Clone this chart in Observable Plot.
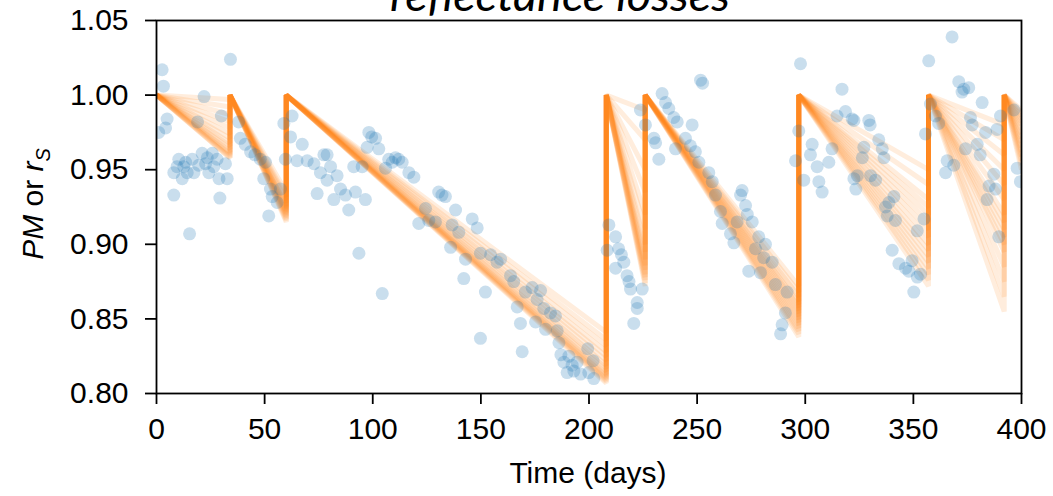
<!DOCTYPE html>
<html>
<head>
<meta charset="utf-8">
<script src="https://cdn.jsdelivr.net/npm/d3@7"></script>
<script src="https://cdn.jsdelivr.net/npm/@observablehq/plot@0.6"></script>
<style>
  html, body { margin: 0; padding: 0; background: #fff; }
  #chart { width: 1053px; height: 496px; overflow: hidden; }
</style>
</head>
<body>
<div id="chart"></div>
<script>
// ---- Data ----
// Cleaning events (days) — soiling model resets to 1.0
const cleanDays = [0, 34, 60, 208, 226, 297, 357, 392, 400];

// Ensemble members: end-of-interval values (one per member)
const endI1 = [0.958,0.958,0.959,0.960,0.961,0.962,0.964,0.966,0.968,0.971,0.974,0.978,0.982,0.987,0.992,0.997];
const endI2 = [0.915,0.916,0.917,0.918,0.919,0.920,0.921,0.922,0.923,0.924,0.925,0.926,0.928,0.930,0.932,0.935];
const endI3 = [0.807,0.808,0.809,0.810,0.811,0.812,0.813,0.815,0.817,0.819,0.822,0.825,0.828,0.832,0.836,0.841];
const endI4 = [0.872,0.874,0.876,0.878,0.880,0.883,0.886,0.890,0.895,0.900,0.910,0.920,0.935,0.950,0.970,0.990];
const endI5 = [0.838,0.840,0.842,0.844,0.846,0.848,0.850,0.852,0.854,0.856,0.858,0.860,0.862,0.865,0.868,0.872];
const endI6 = [0.872,0.876,0.880,0.884,0.888,0.892,0.896,0.900,0.905,0.910,0.915,0.920,0.925,0.930,0.940,0.950];
const endI7 = [0.855,0.865,0.875,0.885,0.895,0.900,0.905,0.910,0.915,0.920,0.930,0.940,0.950,0.960,0.970,0.980];
const endI8 = [0.950,0.953,0.956,0.959,0.962,0.965,0.968,0.971,0.974,0.977,0.980,0.982,0.984,0.986,0.988,0.990];

// Measured points (day, PM)
const obsDay = [
  2.6,3.2,4.9,4.2,1,22,19,30,34.2,
  10.3,12.6,14.2,11.9,8,16.5,17.3,21.1,22.7,24.2,25.8,28,28.9,31.9,32.7,13.5,19.5,26.5,9.5,23.5,
  8,29.3,15.3,
  38,38.8,41,43.5,48,50.4,49.6,52.7,55.8,51.9,57.3,45.5,53.5,
  62.7,58.9,62,67.4,65,69.7,72.8,77.4,75.8,74.3,59.6,
  78.9,80.5,78.9,83.5,82,85.1,87.4,88.9,92,96.6,91.2,95.1,93.6,104.4,
  98.2,99.5,101.3,102.8,97.4,107.4,110.5,113.6,116.7,119,105.9,109,112,
  130.5,132,133.6,138.3,124.4,121.3,125.9,129,136.7,139.8,146,148.3,136,142.9,142.1,152.1,149.8,149.8,154.5,157.5,
  159.1,163.7,165.2,170.6,173.7,177.6,176,166.8,168.3,175.3,179.1,182.2,184.5,185.3,179.9,169.1,186.1,188.4,190.7,192.2,194.5,189.9,196.1,199.9,202.2,199.4,201.9,187,193,
  209.2,212.3,208.4,213.7,212.3,216.1,217.6,219.2,222.3,224.6,222.3,220.7,215,218.5,
  233.8,235.4,236.9,223.8,226.1,230,232.3,239.2,240,230.8,251.6,252.5,240.8,247.7,244.6,246.9,249.2,250.8,255.4,257,258.5,260.8,261.6,265.4,267,270.8,270.1,272.4,273.2,275.5,268.5,278.5,281.6,277,280.8,284.7,273.9,279.3,286.2,291.6,290.8,289.3,288.6,
  297.8,297,295.5,299.3,303.2,302.4,305.5,307.8,310.9,306.3,317,314.7,318.6,321.7,312.4,322.5,322.5,329.4,330,334,335.6,336.4,327.1,326.4,324.1,323.4,330.2,332.5,341,338.7,337.1,337.9,341.7,351.8,354.9,340.2,343.3,346.4,349.4,347.9,351.8,353.3,350.2,
  367.9,357.1,371,373.3,375.6,372.5,381.8,357.9,360.2,361.7,355.6,365.6,364.9,368.7,376.4,377.2,374.1,379.5,383.4,380.9,387.2,385,388,384.1,389.5,390.3,396.5,398,399.5,388.7
];
const obsPM = [
  1.017,1.006,0.984,0.978,0.975,0.999,0.982,0.986,1.024,
  0.957,0.952,0.948,0.944,0.948,0.957,0.948,0.961,0.954,0.948,0.961,0.957,0.944,0.954,0.944,0.955,0.953,0.952,0.952,0.958,
  0.933,0.931,0.907,
  0.982,0.971,0.967,0.962,0.957,0.955,0.944,0.937,0.928,0.919,0.937,0.960,0.932,
  0.986,0.981,0.972,0.967,0.956,0.956,0.954,0.960,0.948,0.934,0.957,
  0.960,0.952,0.943,0.946,0.930,0.937,0.933,0.923,0.935,0.930,0.952,0.952,0.894,0.867,
  0.975,0.972,0.971,0.964,0.965,0.957,0.958,0.955,0.948,0.945,0.951,0.955,0.957,
  0.935,0.933,0.932,0.923,0.924,0.914,0.916,0.915,0.913,0.908,0.917,0.911,0.898,0.890,0.877,0.868,0.837,0.894,0.893,0.888,
  0.890,0.879,0.875,0.868,0.871,0.869,0.863,0.858,0.847,0.848,0.857,0.854,0.852,0.842,0.843,0.828,0.834,0.821,0.825,0.819,0.821,0.814,0.813,0.814,0.810,0.830,0.822,0.826,0.815,
  0.913,0.905,0.896,0.897,0.884,0.888,0.879,0.870,0.861,0.870,0.857,0.847,0.893,0.875,
  1.001,0.995,0.991,0.990,0.980,0.971,0.957,0.985,0.964,0.968,1.010,1.008,0.982,0.980,0.971,0.966,0.962,0.955,0.948,0.942,0.933,0.922,0.914,0.907,0.901,0.936,0.933,0.926,0.920,0.915,0.915,0.905,0.900,0.897,0.891,0.888,0.882,0.881,0.873,0.868,0.854,0.846,0.840,
  1.021,0.976,0.956,0.943,0.967,0.960,0.952,0.935,0.955,0.942,1.004,0.986,0.989,0.984,0.964,0.944,0.983,0.983,0.980,0.970,0.964,0.958,0.965,0.958,0.946,0.937,0.946,0.943,0.932,0.928,0.925,0.919,0.916,0.909,0.917,0.896,0.887,0.884,0.889,0.882,0.878,0.880,0.868,
  1.039,1.023,1.009,1.004,1.005,1.002,0.995,0.994,0.986,0.981,0.974,0.956,0.948,0.953,0.985,0.980,0.964,0.967,0.975,0.960,0.947,0.939,0.937,0.930,0.905,0.986,0.990,0.951,0.942,0.977
];

const xTicks = [0, 50, 100, 150, 200, 250, 300, 350, 400];
const yTicks = [0.80, 0.85, 0.90, 0.95, 1.00, 1.05];

// ---- Build tables ----
const intervalEnds = [endI1, endI2, endI3, endI4, endI5, endI6, endI7, endI8];
const lines = [];
for (let m = 0; m < endI1.length; m++) {
  lines.push({m, d: cleanDays[0], v: 1});
  for (let k = 0; k < intervalEnds.length; k++) {
    lines.push({m, d: cleanDays[k + 1], v: intervalEnds[k][m]});
    if (k < intervalEnds.length - 1) lines.push({m, d: cleanDays[k + 1], v: 1});
  }
}
const points = obsDay.map((d, i) => ({d, v: obsPM[i]}));

const font = "'Liberation Sans', Arial, Helvetica, sans-serif";

const chart = Plot.plot({
  width: 1053,
  height: 496,
  marginLeft: 156,
  marginRight: 32,
  marginTop: 20,
  marginBottom: 103,
  style: {fontFamily: font, fontSize: "30px", color: "black", background: "white", overflow: "hidden"},
  x: {domain: [0, 400]},
  y: {domain: [0.80, 1.05]},
  marks: [
    Plot.line(lines, {x: "d", y: "v", z: "m", stroke: "#ff7f0e", strokeOpacity: 0.14, strokeWidth: 5, strokeLinejoin: "miter", strokeLinecap: "butt", clip: true}),
    Plot.dot(points, {x: "d", y: "v", r: 6.5, fill: "#1f77b4", fillOpacity: 0.24, stroke: "none", clip: true}),
    Plot.frame({stroke: "black", strokeWidth: 1.8}),
    Plot.axisX({ticks: xTicks, tickSize: 11, tickPadding: 13, strokeWidth: 1.8, label: null, fontSize: 30, tickFormat: d3.format("d")}),
    Plot.axisY({ticks: yTicks, tickSize: 11, tickPadding: 17, strokeWidth: 1.8, label: null, fontSize: 30, tickFormat: d3.format(".2f")})
  ]
});

document.getElementById("chart").appendChild(chart);

const svg = d3.select(chart);
// X axis label
svg.append("text")
  .attr("x", 588).attr("y", 483)
  .attr("text-anchor", "middle")
  .attr("font-family", font).attr("font-size", 30).attr("fill", "black")
  .text("Time (days)");

// Y axis label: PM or r_S
const yl = svg.append("text")
  .attr("transform", "translate(43,204) rotate(-90)")
  .attr("text-anchor", "middle")
  .attr("font-family", font).attr("font-size", 30).attr("fill", "black");
yl.append("tspan").attr("font-style", "italic").text("PM");
yl.append("tspan").text(" or ");
yl.append("tspan").attr("font-style", "italic").text("r");
yl.append("tspan").attr("font-style", "italic").attr("font-size", 20).attr("dy", 7).text("S");

// Title (cut off at top, as in the reference)
svg.append("text")
  .attr("x", 560).attr("y", 11)
  .attr("text-anchor", "middle")
  .attr("font-family", "Lato, 'Open Sans', sans-serif")
  .attr("font-style", "italic")
  .attr("font-size", 44)
  .attr("textLength", 340)
  .attr("lengthAdjust", "spacingAndGlyphs")
  .attr("fill", "black")
  .text("reflectance losses");
</script>
</body>
</html>
